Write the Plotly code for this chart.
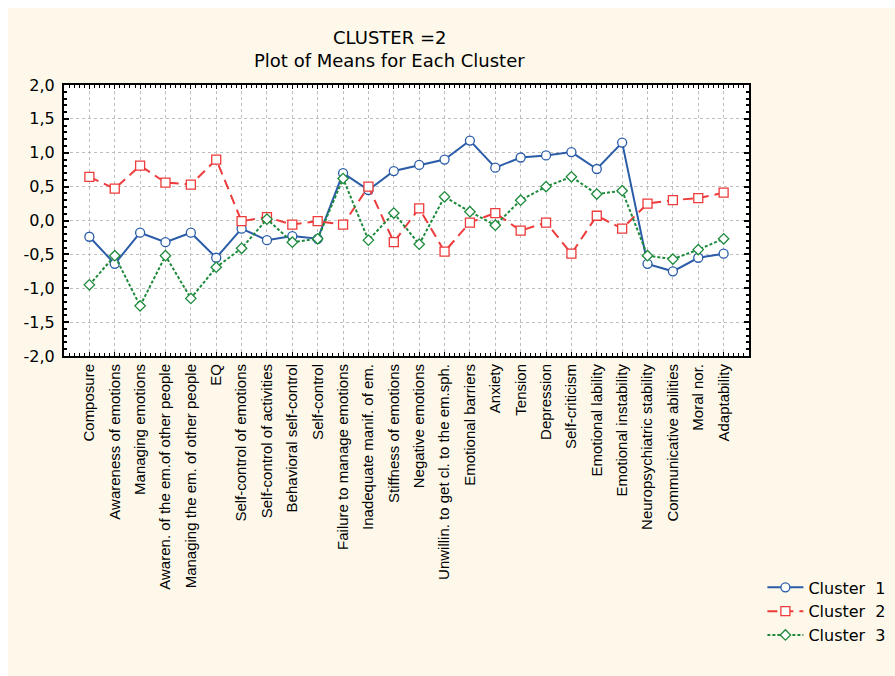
import plotly.graph_objects as go

categories = [
    "Composure", "Awareness of emotions", "Managing emotions",
    "Awaren. of the em.of other people", "Managing the em. of other people", "EQ",
    "Self-control of emotions", "Self-control of activities", "Behavioral self-control",
    "Self-control", "Failure to manage emotions", "Inadequate manif. of em.",
    "Stiffness of emotions", "Negative emotions", "Unwillin. to get cl. to the em.sph.",
    "Emotional barriers", "Anxiety", "Tension", "Depression", "Self-criticism",
    "Emotional lability", "Emotional instability", "Neuropsychiatric stability",
    "Communicative abilities", "Moral nor.", "Adaptability",
]

cluster1 = [-0.24, -0.64, -0.18, -0.32, -0.18, -0.55, -0.12, -0.29, -0.23, -0.27,
            0.70, 0.45, 0.73, 0.82, 0.90, 1.18, 0.78, 0.93, 0.96, 1.01,
            0.76, 1.15, -0.64, -0.75, -0.55, -0.49]
cluster2 = [0.645, 0.47, 0.81, 0.56, 0.53, 0.90, -0.01, 0.05, -0.06, -0.01,
            -0.06, 0.50, -0.32, 0.18, -0.46, -0.03, 0.11, -0.15, -0.03, -0.49,
            0.07, -0.12, 0.25, 0.30, 0.33, 0.41]
cluster3 = [-0.95, -0.52, -1.26, -0.52, -1.15, -0.69, -0.41, 0.02, -0.32, -0.27,
            0.62, -0.29, 0.11, -0.35, 0.35, 0.13, -0.07, 0.30, 0.50, 0.645,
            0.39, 0.44, -0.52, -0.57, -0.43, -0.27]

series_names = ["Cluster\u00a0\u00a01", "Cluster\u00a0\u00a02", "Cluster\u00a0\u00a03"]
y_tick_values = [2.0, 1.5, 1.0, 0.5, 0.0, -0.5, -1.0, -1.5, -2.0]
y_tick_labels = ["2,0", "1,5", "1,0", "0,5", "0,0", "-0,5", "-1,0", "-1,5", "-2,0"]

xpos = list(range(len(categories)))
FONT = "Liberation Sans, Arial, sans-serif"
WIDE = "DejaVu Sans, Arial, sans-serif"

fig = go.Figure()
styles = [
    dict(color="#2A5CA8", dash="solid", symbol="circle", size=9),
    dict(color="#EE3B3B", dash="10px,6px", symbol="square", size=9),
    dict(color="#1E8A3C", dash="3px,2px", symbol="diamond", size=8),
]
for name, vals, st in zip(series_names, [cluster1, cluster2, cluster3], styles):
    fig.add_trace(go.Scatter(
        x=xpos, y=vals, name=name, mode="lines+markers",
        line=dict(color=st["color"], width=2, dash=st["dash"]),
        marker=dict(symbol=st["symbol"], size=st["size"], color="white",
                    line=dict(color=st["color"], width=1.3)),
    ))

fig.update_layout(
    width=887, height=668,
    margin=dict(l=56, r=146, t=77, b=320, autoexpand=False),
    paper_bgcolor="#FDF8EA",
    plot_bgcolor="white",
    font=dict(family=FONT, color="black", size=15),
    showlegend=True,
    legend=dict(xref="container", yref="container", x=0.8505, y=0.158,
                xanchor="left", yanchor="top", itemwidth=36,
                font=dict(size=16, family=WIDE), bgcolor="rgba(0,0,0,0)",
                tracegroupgap=0),
    annotations=[
        dict(text="CLUSTER =2", xref="paper", yref="paper", x=0.4745, y=1.177,
             xanchor="center", yanchor="middle", showarrow=False,
             font=dict(size=18, family=WIDE)),
        dict(text="Plot of Means for Each Cluster", xref="paper", yref="paper",
             x=0.4745, y=1.092, xanchor="center", yanchor="middle", showarrow=False,
             font=dict(size=18, family=WIDE)),
    ],
)

fig.update_xaxes(
    range=[-1, len(categories)], tickmode="array", tickvals=xpos, ticktext=categories,
    tickangle=-90, tickfont=dict(size=15, family=FONT),
    showline=True, linecolor="black", linewidth=2, mirror="allticks",
    ticks="inside", ticklen=4, tickcolor="black", tickwidth=1,
    showgrid=True, gridcolor="#BEBEBE", gridwidth=1, griddash="dot",
    zeroline=False,
    minor=dict(ticks="inside", ticklen=3, dtick=0.2, tick0=0, tickcolor="black", showgrid=False),
)
fig.update_yaxes(
    range=[-2, 2], tickmode="array", tickvals=y_tick_values, ticktext=y_tick_labels,
    tickfont=dict(size=16, family=WIDE), ticklabelstandoff=4,
    showline=True, linecolor="black", linewidth=2, mirror="allticks",
    ticks="inside", ticklen=5, tickcolor="black", tickwidth=2,
    showgrid=True, gridcolor="#BEBEBE", gridwidth=1, griddash="dot",
    zeroline=False,
    minor=dict(ticks="inside", ticklen=3, dtick=0.1, tick0=0, tickcolor="black", showgrid=False),
)

fig.write_html("out.html", post_script="document.body.style.margin='8px 0 0 8px';")
